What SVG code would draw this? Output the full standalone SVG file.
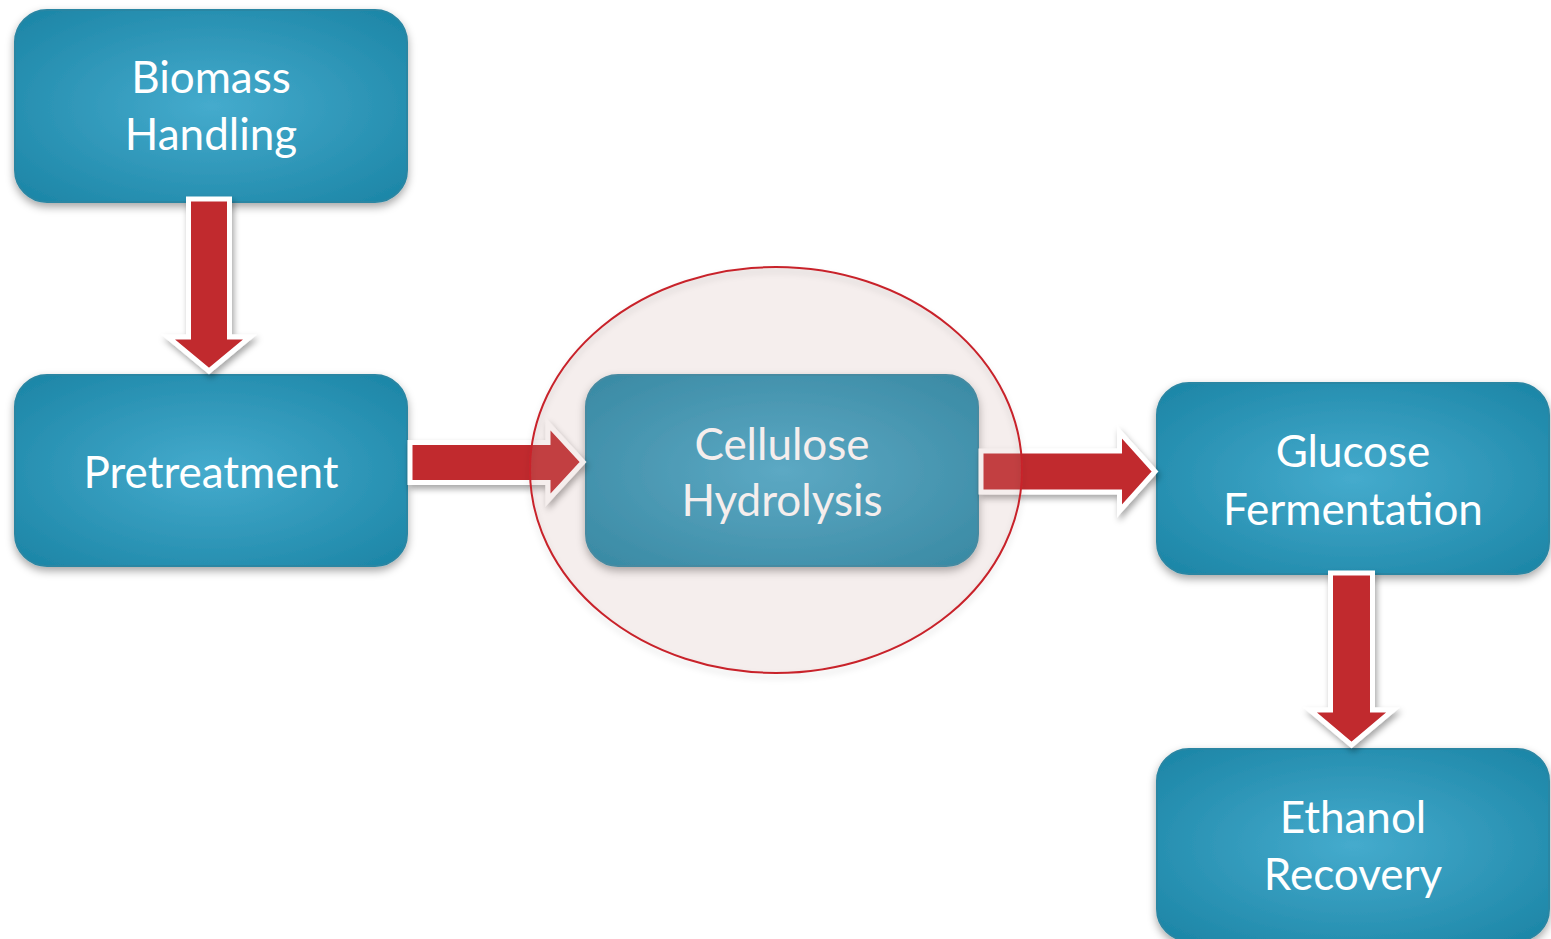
<svg xmlns="http://www.w3.org/2000/svg" width="1551" height="939" viewBox="0 0 1551 939">
  <style>
    .box { fill: url(#boxGrad); stroke: #2a86a3; stroke-width: 2; filter: url(#boxShadow); }
    .label { font-family: "Lato", "Open Sans", "Liberation Sans", sans-serif; font-size: 44px; fill: #ffffff; text-anchor: middle; }
    .arrow { fill: #c1292e; stroke: #ffffff; stroke-width: 5; stroke-linejoin: miter; stroke-miterlimit: 10; filter: url(#arrowShadow); }
  </style>
  <defs>
    <radialGradient id="boxGrad" cx="50%" cy="50%" r="65%">
      <stop offset="0" stop-color="#45abcd"/>
      <stop offset="1" stop-color="#1e87a8"/>
    </radialGradient>
    <filter id="boxShadow" x="-10%" y="-10%" width="120%" height="130%">
      <feDropShadow dx="0" dy="4" stdDeviation="4" flood-color="#000" flood-opacity="0.35"/>
    </filter>
    <filter id="arrowShadow" x="-20%" y="-20%" width="150%" height="150%">
      <feDropShadow dx="2" dy="4" stdDeviation="3" flood-color="#000" flood-opacity="0.35"/>
    </filter>
    <filter id="ellShadow" x="-10%" y="-10%" width="120%" height="125%">
      <feDropShadow dx="0" dy="4" stdDeviation="3" flood-color="#000" flood-opacity="0.15"/>
    </filter>
  </defs>
  <rect width="1551" height="939" fill="#ffffff"/>

  <g id="node-biomass">
    <rect class="box" x="15" y="10" width="392" height="192" rx="32"/>
    <text class="label" x="211" y="93">Biomass</text>
    <text class="label" x="211" y="150">Handling</text>
  </g>
  <g id="node-pretreatment">
    <rect class="box" x="15" y="375" width="392" height="191" rx="32"/>
    <text class="label" x="211" y="488">Pretreatment</text>
  </g>
  <g id="node-cellulose">
    <rect class="box" x="586" y="375" width="392" height="191" rx="32"/>
    <text class="label" x="782" y="460">Cellulose</text>
    <text class="label" x="782" y="516">Hydrolysis</text>
  </g>
  <g id="node-glucose">
    <rect class="box" x="1157" y="383" width="392" height="191" rx="32"/>
    <text class="label" x="1353" y="467">Glucose</text>
    <text class="label" x="1353" y="525">Fermentation</text>
  </g>
  <g id="node-ethanol">
    <rect class="box" x="1157" y="749" width="392" height="192" rx="32"/>
    <text class="label" x="1353" y="833">Ethanol</text>
    <text class="label" x="1353" y="890">Recovery</text>
  </g>

  <g id="connectors">
    <path class="arrow" d="M188.5 199 L229.5 199 L229.5 337 L250 337 L209 371 L168 337 L188.5 337 Z"/>
    <path class="arrow" d="M410 442.5 L548 442.5 L548 424 L583 462 L548 500 L548 482.5 L410 482.5 Z"/>
    <path class="arrow" d="M981 451 L1119.5 451 L1119.5 432 L1155 471.5 L1119.5 511 L1119.5 492 L981 492 Z"/>
    <path class="arrow" d="M1330.5 573 L1372.5 573 L1372.5 710 L1393 710 L1351.5 745 L1310 710 L1330.5 710 Z"/>
  </g>

  <g id="highlight">
    <ellipse cx="776" cy="470" rx="246" ry="203" fill="rgb(200,160,155)" fill-opacity="0.18" stroke="none"/>
    <ellipse cx="776" cy="470" rx="246" ry="203" fill="none" stroke="#c8242b" stroke-width="2" filter="url(#ellShadow)"/>
  </g>
</svg>
